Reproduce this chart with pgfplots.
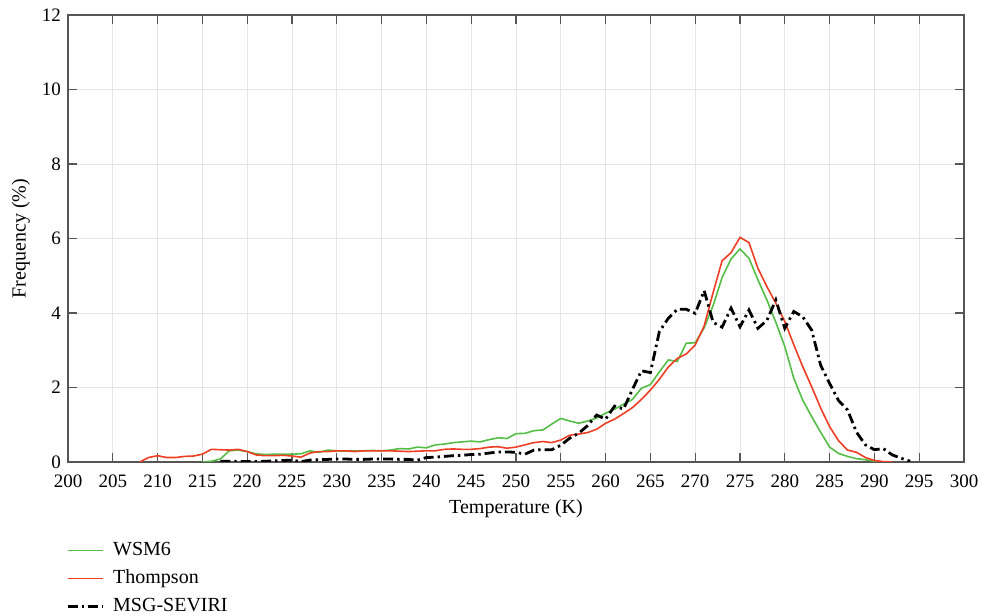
\documentclass[border=0pt]{standalone}
\usepackage{fontspec}
\setmainfont{Liberation Serif}
\usepackage{pgfplots}
\pgfplotsset{compat=1.18}
\usepackage{pgfplotstable}

\definecolor{wsmgreen}{RGB}{84,190,70}
\definecolor{thomred}{RGB}{240,62,36}
\definecolor{axgray}{RGB}{85,85,85}
\definecolor{gridgray}{RGB}{228,230,232}

% Brightness-temperature frequency distributions (T in K, frequency in %)
\pgfplotstableread{
T f
215 0.00
216 0.02
217 0.08
218 0.30
219 0.32
220 0.28
221 0.22
222 0.20
223 0.21
224 0.21
225 0.21
226 0.22
227 0.30
228 0.26
229 0.32
230 0.30
231 0.29
232 0.30
233 0.30
234 0.31
235 0.30
236 0.32
237 0.36
238 0.35
239 0.40
240 0.38
241 0.46
242 0.48
243 0.52
244 0.54
245 0.56
246 0.54
247 0.60
248 0.65
249 0.63
250 0.76
251 0.77
252 0.84
253 0.86
254 1.02
255 1.17
256 1.10
257 1.04
258 1.10
259 1.18
260 1.31
261 1.42
262 1.55
263 1.68
264 1.98
265 2.08
266 2.42
267 2.74
268 2.70
269 3.19
270 3.20
271 3.60
272 4.20
273 4.95
274 5.45
275 5.72
276 5.47
277 4.89
278 4.35
279 3.75
280 3.10
281 2.25
282 1.66
283 1.22
284 0.80
285 0.40
286 0.23
287 0.15
288 0.09
289 0.06
290 0.02
291 0.00
}\wsm

\pgfplotstableread{
T f
208 0.00
209 0.12
210 0.17
211 0.12
212 0.12
213 0.15
214 0.16
215 0.21
216 0.34
217 0.33
218 0.32
219 0.34
220 0.28
221 0.19
222 0.17
223 0.17
224 0.18
225 0.16
226 0.13
227 0.24
228 0.28
229 0.28
230 0.30
231 0.30
232 0.28
233 0.30
234 0.30
235 0.30
236 0.30
237 0.29
238 0.28
239 0.29
240 0.30
241 0.30
242 0.34
243 0.35
244 0.34
245 0.34
246 0.36
247 0.40
248 0.41
249 0.37
250 0.40
251 0.46
252 0.52
253 0.55
254 0.52
255 0.59
256 0.72
257 0.75
258 0.79
259 0.88
260 1.04
261 1.15
262 1.30
263 1.46
264 1.68
265 1.93
266 2.22
267 2.55
268 2.78
269 2.90
270 3.14
271 3.65
272 4.55
273 5.40
274 5.62
275 6.03
276 5.89
277 5.20
278 4.71
279 4.26
280 3.77
281 3.15
282 2.56
283 2.02
284 1.45
285 0.95
286 0.57
287 0.32
288 0.26
289 0.12
290 0.04
291 0.01
292 0.00
}\thompson

\pgfplotstableread{
T f
217 0.02
218 0.02
219 0.02
220 0.01
221 0.01
222 0.02
223 0.03
224 0.04
225 0.05
226 0.01
227 0.05
228 0.06
229 0.07
230 0.08
231 0.08
232 0.07
233 0.07
234 0.08
235 0.08
236 0.08
237 0.07
238 0.07
239 0.05
240 0.12
241 0.13
242 0.15
243 0.17
244 0.18
245 0.20
246 0.21
247 0.24
248 0.27
249 0.27
250 0.26
251 0.21
252 0.32
253 0.33
254 0.33
255 0.45
256 0.64
257 0.77
258 0.98
259 1.26
260 1.15
261 1.50
262 1.42
263 1.95
264 2.45
265 2.40
266 3.50
267 3.86
268 4.10
269 4.10
270 3.99
271 4.60
272 3.75
273 3.62
274 4.13
275 3.63
276 4.08
277 3.59
278 3.80
279 4.35
280 3.59
281 4.04
282 3.90
283 3.54
284 2.60
285 2.11
286 1.65
287 1.40
288 0.80
289 0.46
290 0.33
291 0.36
292 0.19
293 0.10
294 0.02
}\seviri

\begin{document}
\begin{tikzpicture}
\useasboundingbox (-34pt,-77pt) rectangle (457pt,231pt);
\begin{axis}[
  at={(0pt,0pt)}, anchor=south west,
  scale only axis,
  width=448pt, height=223.5pt,
  xmin=200, xmax=300, ymin=0, ymax=12,
  xtick={200,205,...,300},
  ytick={0,2,...,12},
  tick align=inside,
  major tick length=4.5pt,
  axis line style={axgray, line width=0.6pt},
  every tick/.style={axgray, line width=0.6pt},
  grid=major,
  major grid style={gridgray, line width=0.5pt},
  /pgf/number format/assume math mode=true,
  /pgf/number format/1000 sep={},
  tick label style={font=\fontsize{9.5}{11}\selectfont, text=black},
  xticklabel style={yshift=-3pt},
  label style={font=\fontsize{10}{12}\selectfont},
  xlabel={Temperature (K)},
  ylabel={Frequency (\%)},
  xlabel style={at={(axis description cs:0.5,0)}, anchor=north, yshift=-15.5pt},
  ylabel style={at={(axis description cs:0,0.5)}, anchor=south, yshift=15.5pt},
  legend cell align=left,
  legend style={
    at={(rel axis cs:0,0)}, anchor=north west, yshift=-38pt, xshift=-1pt,
    draw=none, fill=none,
    font=\fontsize{10}{12}\selectfont,
    row sep=1.7pt, inner sep=0pt,
    nodes={inner xsep=4.5pt},
  },
  legend image code/.code={\draw (0pt,0pt) -- (17.5pt,0pt);},
]
\addplot[wsmgreen, line width=0.8pt] table[x=T, y=f] {\wsm};
\addlegendentry{WSM6}
\addplot[thomred, line width=0.8pt] table[x=T, y=f] {\thompson};
\addlegendentry{Thompson}
\addplot[black, line width=1.4pt, dash pattern=on 5pt off 2pt on 1.2pt off 2pt] table[x=T, y=f] {\seviri};
\addlegendentry{MSG-SEVIRI}
\end{axis}
\end{tikzpicture}
\end{document}
